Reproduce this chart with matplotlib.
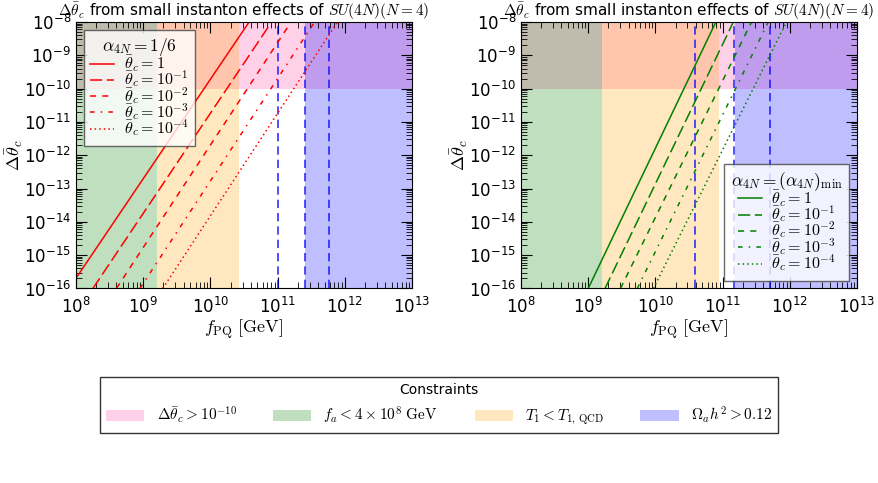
import numpy as np
import matplotlib
matplotlib.use("Agg")
import matplotlib.pyplot as plt
from matplotlib.patches import Patch

plt.rcParams['mathtext.fontset'] = 'cm'
plt.rcParams['font.family'] = ['DejaVu Sans']

# theta_c values shown in the legends
theta_labels = [r'$\bar\theta_c = 1$', r'$\bar\theta_c = 10^{-1}$', r'$\bar\theta_c = 10^{-2}$',
                r'$\bar\theta_c = 10^{-3}$', r'$\bar\theta_c = 10^{-4}$']
line_styles = ['-', (0, (8, 3)), (0, (4, 4)), (0, (3, 4, 1, 4)), (0, (1, 2))]

# left panel (alpha_4N = 1/6): log10 of (f_PQ, dtheta) at both ends of each line
left_logf_start = [8.0, 8.25, 8.60, 8.95, 9.29]
left_logd_start = [-15.69, -16.0, -16.0, -16.0, -16.0]
left_logf_end = [10.575, 10.91, 11.20, 11.55, 11.89]
left_logd_end = [-8.0, -8.0, -8.0, -8.0, -8.0]

# right panel (alpha_4N = (alpha_4N)_min)
right_logf_start = [9.00, 9.25, 9.48, 9.73, 9.97]
right_logd_start = [-16.0, -16.0, -16.0, -16.0, -16.0]
right_logf_end = [10.90, 11.16, 11.43, 11.68, 11.95]
right_logd_end = [-8.0, -8.0, -8.0, -8.0, -8.0]

# constraint regions (log10 f_PQ)
left_green_end, left_orange_end, left_blue_start = 9.20, 10.42, 11.41
right_green_end, right_orange_end, right_blue_start = 9.20, 10.95, 11.18
dtheta_limit = 1e-10
left_vlines = [11.0, 11.41, 11.76]
right_vlines = [10.59, 11.17, 11.71]

xlim = (1e8, 1e13)
ylim = (1e-16, 1e-8)

fig = plt.figure(figsize=(8.79, 4.83), dpi=100)
ax1 = fig.add_axes([0.0865, 0.4027, 0.3823, 0.5518])
ax2 = fig.add_axes([0.5927, 0.4027, 0.3823, 0.5518])


def draw_panel(ax, color, fs, ds, fe, de, g_end, o_end, b_start, vlines, title, loc):
    ax.set_xscale('log')
    ax.set_yscale('log')
    # pink band first, the vertical bands sit on top of it
    ax.axhspan(dtheta_limit, ylim[1], color='hotpink', alpha=0.3, lw=0)
    ax.axvspan(xlim[0], 10**g_end, color='green', alpha=0.25, lw=0)
    ax.axvspan(10**g_end, 10**o_end, color='orange', alpha=0.25, lw=0)
    ax.axvspan(10**b_start, xlim[1], color='blue', alpha=0.25, lw=0)
    for v in vlines:
        ax.axvline(10**v, color='blue', ls=(0, (5, 3)), lw=1.2, alpha=0.8)
    for i in range(len(theta_labels)):
        ax.plot([10**fs[i], 10**fe[i]], [10**ds[i], 10**de[i]], color=color,
                ls=line_styles[i], lw=1.1, label=theta_labels[i])
    ax.set_xlim(xlim)
    ax.set_ylim(ylim)
    ax.set_xlabel(r'$f_{\rm PQ}\ [\rm GeV]$', fontsize=13, labelpad=0)
    ax.set_ylabel(r'$\Delta\bar\theta_c$', fontsize=13, labelpad=-1)
    ax.set_title(r'$\Delta\bar\theta_c$ from small instanton effects of $SU(4N)(N=4)$',
                 fontsize=11, pad=3)
    ax.tick_params(which='both', direction='in', top=True, right=True, labelsize=12)
    ax.tick_params(which='major', length=8)
    ax.tick_params(which='minor', length=4)
    ax.yaxis.set_major_locator(matplotlib.ticker.LogLocator(base=10, numticks=20))
    ax.yaxis.set_minor_locator(matplotlib.ticker.LogLocator(base=10, subs=np.arange(2, 10), numticks=20))
    ax.tick_params(axis='x', pad=6)
    leg = ax.legend(loc=loc, title=title, fontsize=11.5, title_fontsize=12.5, fancybox=False,
                    framealpha=0.8, edgecolor='#444444', handlelength=1.5,
                    borderaxespad=0.5, labelspacing=-0.3, handletextpad=0.6,
                    borderpad=0.4)
    leg.get_frame().set_linewidth(1.0)


draw_panel(ax1, 'red', left_logf_start, left_logd_start, left_logf_end, left_logd_end,
           left_green_end, left_orange_end, left_blue_start, left_vlines,
           r'$\alpha_{4N} = 1/6$', 'upper left')
draw_panel(ax2, 'green', right_logf_start, right_logd_start, right_logf_end, right_logd_end,
           right_green_end, right_orange_end, right_blue_start, right_vlines,
           r'$\alpha_{4N} = (\alpha_{4N})_{\rm min}$', 'lower right')

# shared constraint legend
handles = [Patch(color='hotpink', alpha=0.3, lw=0), Patch(color='green', alpha=0.25, lw=0),
           Patch(color='orange', alpha=0.25, lw=0), Patch(color='blue', alpha=0.25, lw=0)]
labels = [r'$\Delta\bar\theta_c > 10^{-10}$', r'$f_a < 4\times 10^8\ \rm GeV$',
          r'$T_1 < T_{1,\,\rm QCD}$', r'$\Omega_a h^2 > 0.12$']
fleg = fig.legend(handles, labels, loc='upper left', ncol=4, mode='expand',
                  bbox_to_anchor=(100 / 879, 0.0, 678 / 879, 1 - 377 / 483),
                  title='Constraints', fontsize=11, title_fontsize=10, fancybox=False,
                  edgecolor='black', handlelength=2.5, borderaxespad=0.0)

fig.savefig('out.png', dpi=100)
